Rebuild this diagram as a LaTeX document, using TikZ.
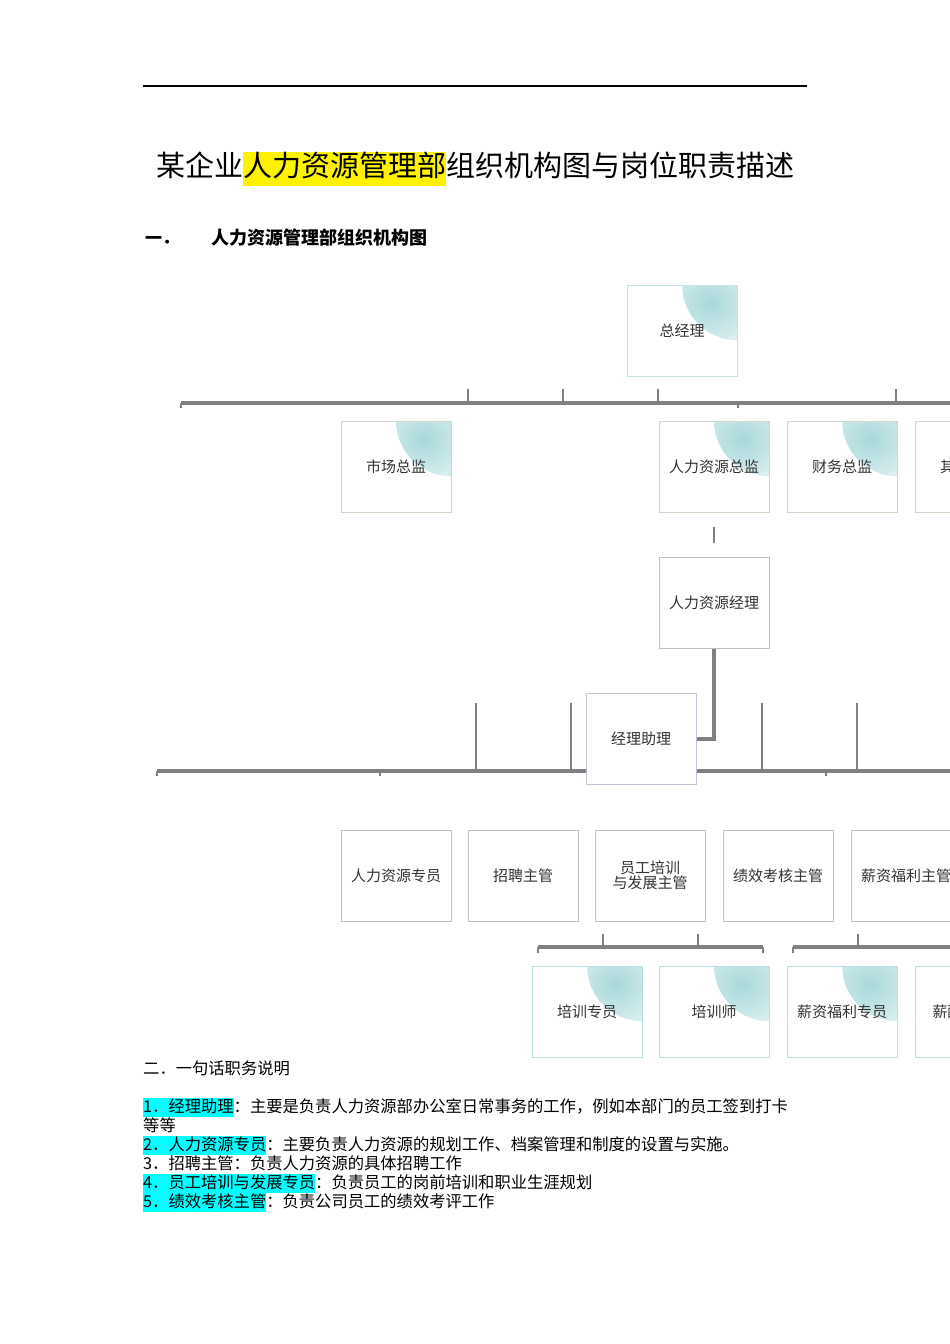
\documentclass[tikz,border=0pt]{standalone}
\usepackage{fontspec}
\setmainfont{Noto Sans CJK SC}
\usepackage{xcolor}
\definecolor{ln}{HTML}{808080}
\definecolor{tl}{HTML}{A8D8DA}
\definecolor{aq}{HTML}{00FFFF}
\newcommand\myhl[2]{{\setlength\fboxsep{0pt}\colorbox{#1}{\strut #2}}}
\tikzset{
  bx/.style={draw=#1, fill=white, minimum width=110pt, minimum height=91pt, inner sep=0pt, anchor=north west, font=\fontsize{15}{17}\selectfont, text=black!80, align=center},
  gbx/.style={bx=#1, path picture={\shade[inner color=tl, outer color=white] (path picture bounding box.north east) circle (55pt);}},
  conn/.style={draw=ln, line width=3.5pt},
  tk/.style={draw=ln, line width=2.5pt},
  txt/.style={anchor=base west, inner sep=0pt, font=\fontsize{16.3}{18}\selectfont}
}
\begin{document}
\begin{tikzpicture}[x=1pt,y=-1pt]
\useasboundingbox (0,0) rectangle (950,1344);
\clip (0,0) rectangle (950,1344);
\fill[white] (0,0) rectangle (950,1344);
\coordinate (tl1) at (143,86); \coordinate (tl2) at (807,86);
\draw[line width=1.5pt] (tl1) -- (tl2);
\node[anchor=base, inner sep=0pt, font=\fontsize{29}{32}\selectfont] (title) at (475,176) {某企业\myhl{yellow}{人力资源管理部}组织机构图与岗位职责描述};
\node[anchor=base west, inner sep=0pt, font=\fontsize{17}{20}\selectfont\bfseries] (h1n) at (145,244) {一．};
\node[anchor=base west, inner sep=0pt, font=\fontsize{18}{20}\selectfont\bfseries] (h1) at (211,244) {人力资源管理部组织机构图};
% level 1 lines
\coordinate (a1) at (181,403); \coordinate (a2) at (960,403);
\draw[conn] (a1) -- (a2);
\foreach \x in {468,563,658,896} \draw[tk] (\x,389) -- (\x,403);
\foreach \x in {181,738} \draw[tk] (\x,403) -- (\x,408);
\draw[tk] (714,527) -- (714,543);
% level 2 lines
\draw[conn] (714,648) -- (714,739) -- (697,739);
\draw[conn] (157,771) -- (960,771);
\foreach \x in {157,380,826} \draw[tk] (\x,771) -- (\x,776);
\foreach \x in {476,571,762,857} \draw[tk] (\x,703) -- (\x,771);
% brackets
\draw[conn] (538,947) -- (763,947);
\foreach \x in {538,763} \draw[tk] (\x,947) -- (\x,953);
\foreach \x in {603,698} \draw[tk] (\x,934) -- (\x,947);
\draw[conn] (793,947) -- (960,947);
\draw[tk] (793,947) -- (793,953);
\draw[tk] (858,934) -- (858,947);
% boxes
\node[gbx=tl!70] (gm) at (627,285) {总经理};
\node[gbx=green!10!yellow!15!gray!40] (sc) at (341,421) {市场总监};
\node[gbx=green!10!yellow!15!gray!40] (hrd) at (659,421) {人力资源总监};
\node[gbx=green!10!yellow!15!gray!40] (cw) at (787,421) {财务总监};
\node[gbx=green!10!yellow!15!gray!40] (qt) at (915,421) {其他总监};
\node[bx=gray!50] (hrm) at (659,557) {人力资源经理};
\node[bx=blue!20!gray!40] (zl) at (586,693) {经理助理};
\node[bx=gray!50] (zy) at (341,830) {人力资源专员};
\node[bx=gray!50] (zp) at (468,830) {招聘主管};
\node[bx=gray!50] (px) at (595,830) {员工培训\\[-2pt]与发展主管};
\node[bx=gray!50] (jx) at (723,830) {绩效考核主管};
\node[bx=gray!50] (xz) at (851,830) {薪资福利主管};
\node[gbx=tl!80] (pxzy) at (532,966) {培训专员};
\node[gbx=tl!80] (pxs) at (659,966) {培训师};
\node[gbx=tl!80] (xzzy) at (787,966) {薪资福利专员};
\node[gbx=tl!80] (xc) at (915,966) {薪酬核算员};
% text
\node[txt] (s2) at (143,1074) {二．一句话职务说明};
\node[txt] (l1) at (143,1112) {\myhl{aq}{1．经理助理}：主要是负责人力资源部办公室日常事务的工作，例如本部门的员工签到打卡};
\node[txt] (l1b) at (143,1131) {等等};
\node[txt] (l2) at (143,1150) {\myhl{aq}{2．人力资源专员}：主要负责人力资源的规划工作、档案管理和制度的设置与实施。};
\node[txt] (l3) at (143,1169) {3．招聘主管：负责人力资源的具体招聘工作};
\node[txt] (l4) at (143,1188) {\myhl{aq}{4．员工培训与发展专员}：负责员工的岗前培训和职业生涯规划};
\node[txt] (l5) at (143,1207) {\myhl{aq}{5．绩效考核主管}：负责公司员工的绩效考评工作};
\end{tikzpicture}
\end{document}
